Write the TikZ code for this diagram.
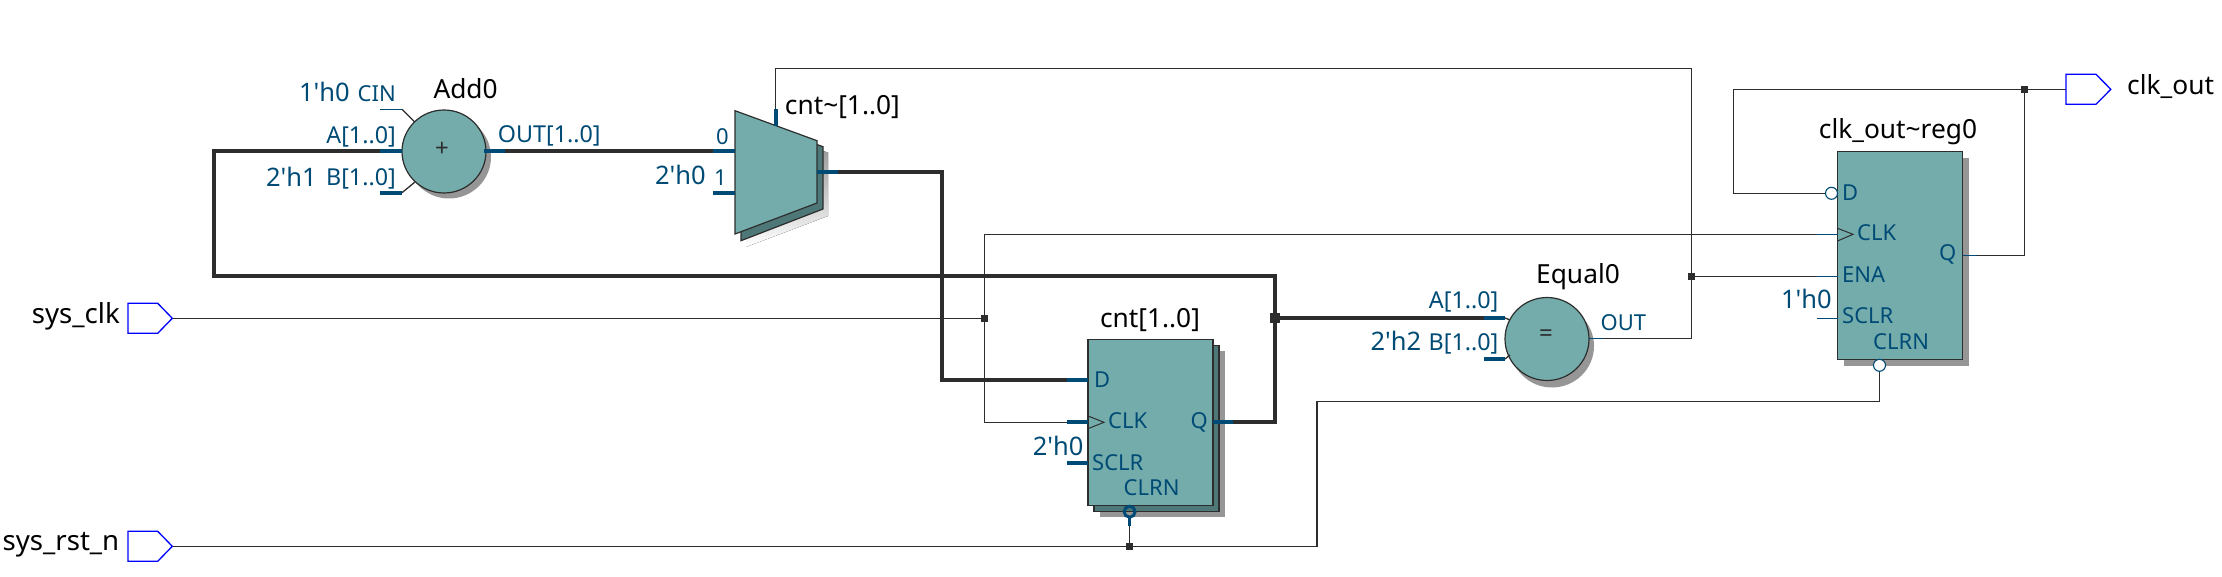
\documentclass[tikz,border=0pt]{standalone}
\usepackage{fontspec}
\setmainfont{Noto Sans}
\usetikzlibrary{shapes.geometric}
\definecolor{wire}{HTML}{2D2D2D}
\definecolor{pin}{HTML}{004B75}
\definecolor{body}{HTML}{74ACAC}
\definecolor{layer}{HTML}{4E7878}
\definecolor{shade}{HTML}{969696}
\tikzset{
	thinw/.style={draw=wire,line width=1.3pt},
	busw/.style={draw=wire,line width=4pt},
	pinbus/.style={draw=pin,line width=4pt},
	pinthin/.style={draw=pin,line width=1.3pt},
	part/.style={fill=body,draw=wire,line width=1.2pt},
	second/.style={fill=layer,draw=wire,line width=1.2pt},
	shadow/.style={fill=shade,draw=none},
	junction/.style={fill=wire,draw=none,inner sep=0pt,minimum size=7pt},
	bigjunction/.style={fill=wire,draw=none,inner sep=0pt,minimum size=10pt},
	portbox/.style={draw=blue,line width=1.3pt,fill=white},
	bubble/.style={circle,draw=pin,fill=white,inner sep=0pt,minimum size=12pt,line width=1.1pt},
	regshape/.style={rectangle,inner sep=0pt,minimum width=125pt},
	opshape/.style={ellipse,inner sep=0pt,minimum width=84pt,minimum height=83pt},
	title/.style={inner sep=0pt,text=black,font=\fontsize{26.3}{26}\selectfont},
	porttitle/.style={inner sep=0pt,text=black,font=\fontsize{27.6}{26}\selectfont},
	val/.style={inner sep=0pt,text=pin,font=\fontsize{25.5}{26}\selectfont},
	lab/.style={inner sep=0pt,text=pin,font=\fontsize{22}{22}\selectfont},
	buslab/.style={inner sep=0pt,text=pin,font=\fontsize{23.3}{22}\selectfont},
	sign/.style={inner sep=0pt,text=wire,font=\fontsize{24}{24}\selectfont},
}
\begin{document}
\begin{tikzpicture}[x=1pt,y=-1pt]
	\useasboundingbox (0,0) rectangle (2222,577);
	% shadows and lower layers
	\node[shadow,opshape] at (449,157) {};
	\node[shadow,opshape] at (1552,346) {};
	\fill[shade] (746,122.7) -- (828,152.7) -- (828,216) -- (746,247) -- cycle;
	\draw[second] (741,116.7) -- (823,146.7) -- (823,209) -- (741,240.7) -- cycle;
	\node[shadow,regshape,minimum height=166pt] at (1162.5,434.3) {};
	\node[second,regshape,minimum height=166pt] at (1156.5,428.3) {};
	\node[shadow,regshape,minimum height=208pt] at (1906.3,261.7) {};
	% blocks
	\node[part,opshape] (add) at (444,151.5) {};
	\node[part,opshape] (equal) at (1547,339) {};
	\draw[part] (735,110.7) -- (817,140.7) -- (817,203) -- (735,234) -- cycle;
	\node[part,regshape,minimum height=166pt] (cnt) at (1150.5,422.3) {};
	\node[part,regshape,minimum height=208pt] (reg) at (1900.1,255.3) {};
	% pins
	\coordinate (addA) at (402,150.7);
	\coordinate (addB) at (402,192.7);
	\coordinate (addC) at (402,109.3);
	\coordinate (addO) at (484,150.7);
	\coordinate (muxI) at (735,150.7);
	\coordinate (muxJ) at (735,192.7);
	\coordinate (muxO) at (817,171.7);
	\coordinate (muxS) at (775.6,126);
	\coordinate (cntD) at (1088,380);
	\coordinate (cntC) at (1088,422.3);
	\coordinate (cntR) at (1088,463);
	\coordinate (cntQ) at (1213,422.3);
	\coordinate (cntN) at (1129.6,518);
	\coordinate (eqA) at (1505,318);
	\coordinate (eqB) at (1505,359);
	\coordinate (eqO) at (1589,338.3);
	\coordinate (regD) at (1825.5,193.3);
	\coordinate (regC) at (1837.5,234.3);
	\coordinate (regE) at (1837.5,276.3);
	\coordinate (regR) at (1837.5,318.3);
	\coordinate (regQ) at (1962.7,255.3);
	\coordinate (regN) at (1879.5,371.3);
	\coordinate (inclk) at (172.3,318.3);
	\coordinate (inrst) at (172.3,546.3);
	\coordinate (outclk) at (2066,89.3);
	% junctions
	\node[bigjunction] (jbus) at (1275,318) {};
	\node[junction] (jclk) at (984.7,318.3) {};
	\node[junction] (jrst) at (1129.6,546.3) {};
	\node[junction] (jeq) at (1691.5,276.3) {};
	\node[junction] (jq) at (2024.7,89.3) {};
	% buses
	\draw[busw] (addO) -- (muxI);
	\draw[busw] (muxO) -| (942,380) -- (cntD);
	\draw[busw] (cntQ) -| (jbus.center) -- (eqA);
	\draw[busw] (jbus.center) -- (1275,276) -- (213.5,276) -- (213.5,150.7) -- (addA);
	% thin wires
	\draw[thinw] (inclk) -- (jclk);
	\draw[thinw] (jclk) |- (cntC);
	\draw[thinw] (jclk) |- (regC);
	\draw[thinw] (inrst) -- (jrst) -- (1317,546.3) -- (1317,401.3) -| (regN);
	\draw[thinw] (jrst) -- (cntN);
	\draw[thinw] (eqO) -| (1691.5,68.3) -| (775.6,109.3);
	\draw[thinw] (jeq) -- (regE);
	\draw[thinw] (regQ) -| (jq);
	\draw[thinw] (jq) -- (1733.5,89.3) |- (regD);
	\draw[thinw] (jq) -- (outclk);
	\draw[thinw] (addC) -- (414.5,121.7);
	\draw[thinw] (addB) -- (415,182);
	\draw[thinw] (eqA) -- (1510,320);
	\draw[thinw] (eqB) -- (1510,355);
	% pin stubs
	\draw[pinbus] (addA) -- +(-22,0);
	\draw[pinbus] (addB) -- +(-22,0);
	\draw[pinthin] (addC) -- +(-22,0);
	\draw[pinbus] (addO) -- +(21,0);
	\draw[pinbus] (muxI) -- +(-22,0);
	\draw[pinbus] (muxJ) -- +(-22,0);
	\draw[pinbus] (muxO) -- +(21,0);
	\draw[pinbus] (muxS) -- +(0,-17);
	\draw[pinbus] (cntD) -- +(-21,0);
	\draw[pinbus] (cntC) -- +(-21,0);
	\draw[pinbus] (cntR) -- +(-21,0);
	\draw[pinbus] (cntQ) -- +(20,0);
	\draw[pinbus,line width=3pt] (cntN) -- +(0,8);
	\draw[pinbus] (eqA) -- +(-21,0);
	\draw[pinbus] (eqB) -- +(-21,0);
	\draw[pinthin] (eqO) -- +(14,0);
	\draw[pinthin] (regC) -- +(-21,0);
	\draw[pinthin] (regE) -- +(-21,0);
	\draw[pinthin] (regR) -- +(-21,0);
	\draw[pinthin] (regQ) -- +(14,0);
	% clock marks and bubbles
	\draw[draw=wire,line width=1pt] (1088,416) -- (1104,422.3) -- (1088,428.7);
	\draw[draw=wire,line width=1pt] (1837.5,228.3) -- (1853,234.3) -- (1837.5,241);
	\node[bubble,line width=3pt,fill=none,minimum size=11pt] (cntbub) at (1129.6,511.7) {};
	\node[bubble] (regdbub) at (1831.5,193.3) {};
	\node[bubble] (regnbub) at (1879.5,365.3) {};
	% ports
	\draw[portbox] (128,303.3) -- (157.7,303.3) -- (inclk) -- (157.7,333.3) -- (128,333.3) -- cycle;
	\draw[portbox] (128,531.3) -- (157.7,531.3) -- (inrst) -- (157.7,561.3) -- (128,561.3) -- cycle;
	\draw[portbox] (outclk) -- (2066,74.3) -- (2096,74.3) -- (2110.8,89.3) -- (2096,104.3) -- (2066,104.3) -- cycle;
	% names
	\node[porttitle,anchor=east] (tclk) at (120,316.7) {sys\_clk};
	\node[porttitle,anchor=east] (trst) at (119.5,545) {sys\_rst\_n};
	\node[title,anchor=west] (tout) at (2127,87) {clk\_out};
	\node[title] (tadd) at (465.6,89) {Add0};
	\node[title,anchor=west] (tmux) at (784.7,106.7) {cnt\textasciitilde[1..0]};
	\node[title] (tcnt) at (1150,320) {cnt[1..0]};
	\node[title] (teq) at (1578,277) {Equal0};
	\node[title] (treg) at (1898,131.7) {clk\_out\textasciitilde reg0};
	% values
	\node[val,anchor=east] (vcin) at (350,91.7) {1\textquotesingle h0};
	\node[val,anchor=east] (vaddb) at (317,176.7) {2\textquotesingle h1};
	\node[val,anchor=east] (vmux) at (706,175) {2\textquotesingle h0};
	\node[val,anchor=east] (vcnt) at (1083.7,445.7) {2\textquotesingle h0};
	\node[val,anchor=east] (veq) at (1421.4,341) {2\textquotesingle h2};
	\node[val,anchor=east] (vreg) at (1832,299) {1\textquotesingle h0};
	% pin labels
	\node[lab,anchor=east] (l1) at (396,94) {CIN};
	\node[buslab,anchor=east] (l2) at (396,136.7) {A[1..0]};
	\node[buslab,anchor=east] (l3) at (396,179) {B[1..0]};
	\node[buslab,anchor=west] (l4) at (497.7,136) {OUT[1..0]};
	\node[lab,anchor=east] (l5) at (729,136.7) {0};
	\node[lab,anchor=east] (l6) at (727,178) {1};
	\node[lab,anchor=west] (l7) at (1094,380) {D};
	\node[lab,anchor=west] (l8) at (1108,420.7) {CLK};
	\node[lab,anchor=east] (l9) at (1208,422) {Q};
	\node[lab,anchor=west] (l10) at (1092,462.7) {SCLR};
	\node[lab,anchor=west] (l11) at (1123.5,488) {CLRN};
	\node[buslab,anchor=east] (l12) at (1498.5,302) {A[1..0]};
	\node[buslab,anchor=east] (l13) at (1498.5,344) {B[1..0]};
	\node[lab,anchor=west] (l14) at (1600.5,323) {OUT};
	\node[lab,anchor=west] (l15) at (1842,192.3) {D};
	\node[lab,anchor=west] (l16) at (1857,232.7) {CLK};
	\node[lab,anchor=east] (l17) at (1956.5,254) {Q};
	\node[lab,anchor=west] (l18) at (1842,275) {ENA};
	\node[lab,anchor=west] (l19) at (1842,316) {SCLR};
	\node[lab,anchor=west] (l20) at (1873,342) {CLRN};
	\node[sign] (plus) at (442,149) {+};
	\node[sign] (eqsign) at (1546,336) {=};
\end{tikzpicture}
\end{document}
